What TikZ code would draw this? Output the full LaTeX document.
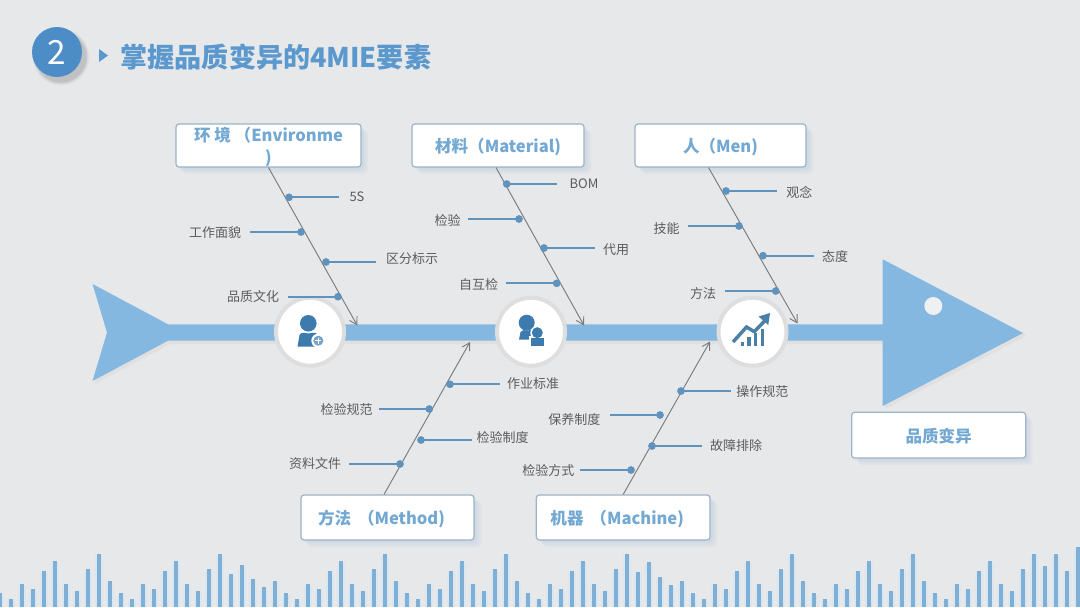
\documentclass[tikz,border=0pt]{standalone}
\usepackage{fontspec}
\setmainfont{Noto Sans CJK SC}
\usetikzlibrary{arrows.meta}
\definecolor{bgc}{HTML}{E7E8EA}
\definecolor{spinec}{HTML}{85B8E1}
\definecolor{titlec}{HTML}{5B98CE}
\definecolor{badgec}{HTML}{4C8DC8}
\definecolor{boxtxt}{HTML}{72A8D2}
\definecolor{boxedge}{HTML}{9DB3C6}
\definecolor{twigc}{HTML}{5F93BE}
\definecolor{iconc}{HTML}{3D7AAE}
\definecolor{chartc}{HTML}{4A7FA6}
\definecolor{labc}{HTML}{5C5C5C}
\definecolor{bonec}{HTML}{7A7A7A}
\definecolor{shadc}{HTML}{BFD0E0}
\tikzset{
  fishbox/.style={draw=boxedge,line width=0.9pt,fill=white,rounded corners=2.2pt,inner sep=0pt,
    text=boxtxt,font=\fontsize{12.4pt}{16.5pt}\selectfont\bfseries,text height=10.4pt,text depth=0pt},
  bone/.style={draw=bonec,line width=0.7pt,-{Straight Barb[length=5.5pt,width=6.5pt,line width=0.7pt]}},
  twig/.style={draw=twigc,line width=1.6pt},
  twigdot/.style={circle,fill=twigc,inner sep=0pt,minimum size=5.8pt},
  twiglabel/.style={text=labc,font=\fontsize{9.75pt}{11pt}\selectfont,inner sep=0pt},
  hubring/.style={circle,fill=white,draw=black!13,line width=3pt,minimum size=51pt,inner sep=0pt},
  barline/.style={draw=spinec!95!black,line width=3pt},
  barhalo/.style={draw=spinec!35!white,line width=6pt,opacity=.55},
}
\begin{document}
\begin{tikzpicture}[x=0.75pt,y=-0.75pt]
\useasboundingbox (0,0) rectangle (1080,607);
\fill[bgc] (0,0) rectangle (1080,607);
% bars
\foreach \t [count=\i from 0] in {190,208,163,178,122,92,163,182,117,73,153,190,208,163,178,122,92,163,182,117,73,132,105,146,172,153,190,208,163,178,122,92,163,
182,117,73,153,190,208,163,178,122,92,163,182,117,73,153,190,208,163,178,122,92,163,182,117,73,126,96,141,165,153,190,208,163,
178,122,92,163,182,117,73,153,190,208,163,178,122,92,163,182,117,73,153,190,208,163,178,122,92,163,182,117,73,107,73,122,50}{
  \pgfmathsetmacro\bx{\i*10.995}
  \pgfmathsetmacro\by{530+\t/3}
  \draw[barhalo] (\bx,\by+2) -- (\bx,607);
  \draw[barline] (\bx,\by) -- (\bx,607);
}
% title
\foreach \o/\a in {9/.025,7/.035,5/.05,3/.06}{\fill[black,opacity=\a] (61,57) circle[radius=24+\o/2];}
\node[circle,fill=badgec,minimum size=37.5pt,inner sep=0pt,text=white,font=\fontsize{25pt}{25pt}\selectfont] (badge) at (57,52) {2};
\fill[titlec] (99,49) -- (108,55.5) -- (99,62) -- cycle;
\node[anchor=west,inner sep=0pt,text=titlec,font=\fontsize{20.3pt}{24pt}\selectfont\bfseries] (title) at (120.5,57) {掌握品质变异的4MIE要素};
% spine shadow
\fill[black!12] (95,384) -- (170,344) -- (885,344) -- (885,409) -- (1026,336) -- (1023,333) -- (882,333) -- (107,335) -- cycle;
% spine
\fill[spinec] (92.5,284) -- (168,324.3) -- (882.7,324.3) -- (882.7,259.3) -- (1023,333) -- (882.7,406) -- (882.7,340.7) -- (168,340.7) -- (92.5,381) -- (107,332.5) -- cycle;
\fill[bgc!65!white] (933.3,306) circle[radius=9];
% hubs
\node[hubring] (hubA) at (310,331.7) {};
\node[hubring] (hubB) at (531,331.7) {};
\node[hubring] (hubC) at (752.5,331.7) {};
% icon A
\fill[iconc] (308.3,323.3) circle[radius=8.3];
\fill[iconc] (297.5,346.7) -- (299.5,335) .. controls (301,332) and (304,332.5) .. (308.5,333.5) .. controls (313,332.5) and (316,332) .. (318,335) -- (320,346.7) -- cycle;
\fill[white] (318.3,340.7) circle[radius=7];
\fill[iconc!70!white] (318.3,340.7) circle[radius=5];
\draw[white,line width=1.1pt] (315.3,340.7) -- (321.3,340.7) (318.3,337.7) -- (318.3,343.7);
% icon B
\fill[iconc] (526.7,322.7) circle[radius=8];
\fill[iconc] (519,339.5) -- (520.5,332) .. controls (522,329.5) and (525,330) .. (527,330.5) .. controls (530,330) and (532,329.5) .. (534,331.5) -- (536,339.5) -- cycle;
\fill[white] (537.3,333) circle[radius=7];
\fill[white] (529.3,336) rectangle (545.5,347);
\fill[iconc] (537.3,332.7) circle[radius=5.5];
\fill[iconc] (530.7,337.8) rectangle (544,345.7);
% icon C
\fill[chartc] (740.7,341.7) rectangle (743.7,345.5);
\fill[chartc] (747.3,336.7) rectangle (750.6,345.5);
\fill[chartc] (753.5,332.7) rectangle (756.8,345.5);
\fill[chartc] (760.8,329.3) rectangle (764,345.5);
\draw[chartc,line width=2.6pt,line join=miter] (733,342) -- (746.5,327) -- (754.3,331.7) -- (766,319.5);
\fill[chartc] (770,313) -- (768.3,325) -- (758.5,316.5) -- cycle;
% shadows + boxes
\foreach \ax/\ay/\bx/\by in {176/124/361/167,412/124/584/167,635/124/806/167,301/495/474/540,536.3/495/710/540,851.7/412.3/1025.7/458}{
  \foreach \o/\a in {7/.18,5/.22,3/.28}{
    \fill[shadc,opacity=\a,rounded corners=3pt] (\ax+\o,\ay+\o) rectangle (\bx+\o,\by+\o);
  }
}
\node[fishbox,minimum width=138.7pt,minimum height=32.2pt] (env) at (268.5,145.5) {};
\node[inner sep=0pt,text=boxtxt,font=\fontsize{12.4pt}{16.5pt}\selectfont\bfseries,align=center] (envtext) at (268.5,147) {环 境 （Environme\\)};
\node[fishbox,minimum width=129pt,minimum height=32.2pt] (mat) at (498,145.5) {材料（Material)};
\node[fishbox,minimum width=128.2pt,minimum height=32.2pt] (men) at (720.5,145.5) {人（Men)};
\node[fishbox,minimum width=129.7pt,minimum height=33.7pt] (met) at (387.5,517.5) {方法\hspace{0.42em}（Method)\kern9pt\relax};
\node[fishbox,minimum width=130.3pt,minimum height=33.7pt] (mac) at (623.2,517.5) {机器\hspace{0.42em}（Machine)\kern9pt\relax};
\node[fishbox,minimum width=130.5pt,minimum height=34.3pt] (res) at (938.7,435.2) {品质变异};
% bones
\coordinate (tipEnv) at (357.3,325.5);
\coordinate (tipMat) at (584,325.5);
\coordinate (tipMen) at (797.5,323.5);
\coordinate (tipMet) at (470,342);
\coordinate (tipMac) at (710,341.5);
\draw[bone] (env.south) -- (tipEnv);
\draw[bone] ([xshift=-1.5pt]mat.south) -- (tipMat);
\draw[bone] ([xshift=-9pt]men.south) -- (tipMen);
\draw[bone] ([xshift=-2.6pt]met.north) -- (tipMet);
\draw[bone] (mac.north) -- (tipMac);
% twigs
\foreach \n/\dx/\dy/\ex/\lx/\ly/\t in {
 a/289/197.3/339/357/196.5/5S,
 b/301/232/250/215/233/工作面貌,
 c/326/262/376/412/258.7/区分标示,
 d/338/296.7/287.7/253/296.7/品质文化,
 e/506.7/184/557/584/184/BOM,
 f/519/219/468/447.7/221/检验,
 g/544/248/595/616/249.7/代用,
 h/556.7/283.3/506/478.7/285/自互检,
 i/726/191/777/799.3/192/观念,
 j/739/226/688/666.7/228.7/技能,
 k/763/255.7/814/835/256.7/态度,
 l/775.7/291/725/703/293.7/方法,
 m/450/384.3/500/533/383.7/作业标准,
 o/429.3/409/379/346.7/409.7/检验规范,
 p/421/440/472/502.7/437.7/检验制度,
 q/400/464/349/315/463.7/资料文件,
 r/681/391/731/762.3/391.7/操作规范,
 s/660/415/610/574.3/419.7/保养制度,
 u/652/446/702/736/445.7/故障排除,
 v/631/470/580/548.3/470.7/检验方式}{
  \node[twigdot] (dot\n) at (\dx,\dy) {};
  \coordinate (end\n) at (\ex,\dy);
  \node[twiglabel] (lab\n) at (\lx,\ly) {\t};
  \draw[twig] (dot\n.center) -- (end\n);
}
\end{tikzpicture}
\end{document}
